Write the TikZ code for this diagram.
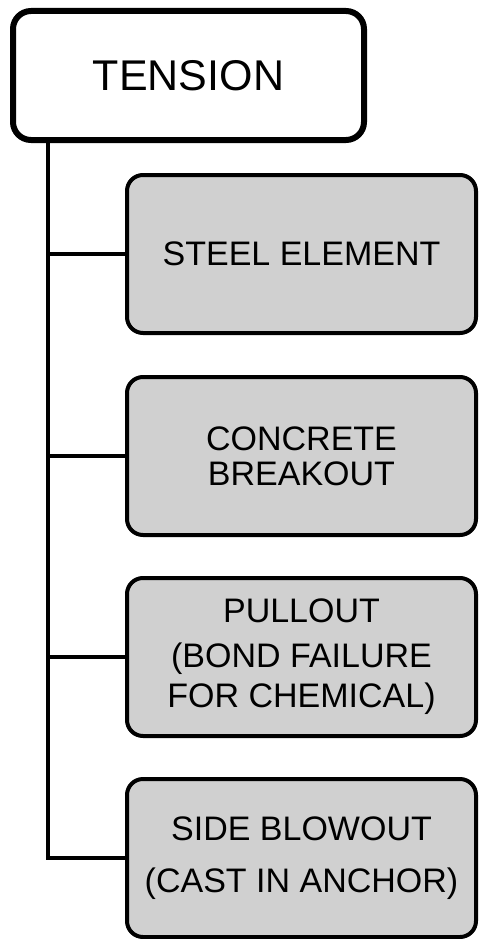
\documentclass[tikz,border=0pt]{standalone}
\usepackage{fontspec}
\setmainfont{Liberation Sans}
\definecolor{boxgray}{RGB}{208,208,208}
\begin{document}
\begin{tikzpicture}[x=1pt,y=-1pt,
  rootbox/.style={draw=black, line width=6pt, fill=white, rounded corners=18pt,
    minimum width=351pt, minimum height=129pt, inner sep=0pt,
    font=\fontsize{43}{46}\selectfont},
  modebox/.style={draw=black, line width=4pt, fill=boxgray, rounded corners=16pt,
    minimum width=349pt, minimum height=158pt, inner sep=0pt, align=center,
    font=\fontsize{34}{35}\selectfont},
  trunk/.style={draw=black, line width=4.5pt, line join=miter}]
\useasboundingbox (0,0) rectangle (480,939);
\node[rootbox] (top) at (188.5,75.5) {TENSION};
\node[modebox] (b1) at (301.5,254) {STEEL ELEMENT};
\node[modebox] (b2) at (301.5,456) {CONCRETE\\BREAKOUT};
\node[modebox] (b3) at (301.5,657) {PULLOUT\\[10pt](BOND FAILURE\\[5pt]FOR CHEMICAL)};
\node[modebox] (b4) at (301.5,858) {SIDE BLOWOUT\\[17pt](CAST IN ANCHOR)};
\coordinate (j1) at (48,254);
\coordinate (j2) at (48,456);
\coordinate (j3) at (48,657);
\coordinate (j4) at (48,858);
\draw[trunk] (top.south -| j4) -- (j4) -- (b4.west);
\draw[trunk] (j1) -- (b1.west);
\draw[trunk] (j2) -- (b2.west);
\draw[trunk] (j3) -- (b3.west);
\end{tikzpicture}
\end{document}
